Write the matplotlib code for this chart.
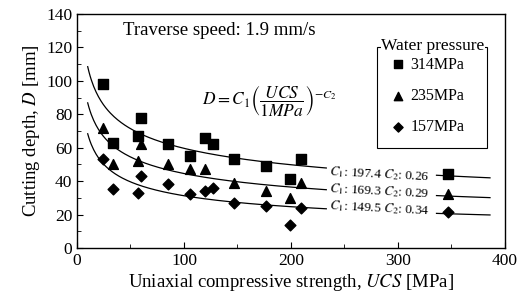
import matplotlib.pyplot as plt
from matplotlib.patches import Rectangle
import numpy as np

plt.rcParams['font.family'] = ['Liberation Serif', 'DejaVu Serif']
plt.rcParams['mathtext.fontset'] = 'stix'

ucs_314 = [24, 34, 57, 60, 85, 106, 120, 127, 147, 177, 199, 209]
d_314 = [98, 63, 67, 78, 62, 55, 66, 62, 53, 49, 41, 53]
ucs_235 = [24, 34, 57, 60, 85, 106, 120, 147, 177, 199, 209]
d_235 = [72, 50, 52, 62, 50, 47, 47, 39, 34, 30, 39]
ucs_157 = [24, 34, 57, 60, 85, 106, 120, 127, 147, 177, 199, 209]
d_157 = [53, 35, 33, 43, 38, 32, 34, 36, 27, 25, 14, 24]

# fitted power law D = C1 * UCS^-C2
c1 = [197.4, 169.3, 149.5]
c2 = [0.26, 0.29, 0.34]
labels = ['314MPa', '235MPa', '157MPa']
markers = ['s', '^', 'D']

fig = plt.figure(figsize=(5.31, 2.98), dpi=100)
ax = fig.add_axes([0.145, 0.168, 0.806, 0.785])

xs = [ucs_314, ucs_235, ucs_157]
ys = [d_314, d_235, d_157]
sizes = [46, 50, 30]
for x, y, m, lab, s in zip(xs, ys, markers, labels, sizes):
    ax.scatter(x, y, marker=m, s=s, color='black', label=lab, zorder=3)

x1 = np.linspace(10, 233, 200)
x2 = np.linspace(336, 386, 50)
label_y = [45.5, 35.5, 25.5]
for a, b, m, s, ly in zip(c1, c2, markers, sizes, label_y):
    ax.plot(x1, a * x1 ** -b, color='black', lw=0.9)
    ax.plot(x2, a * x2 ** -b, color='black', lw=0.9)
    ax.scatter([347], [a * 347 ** -b + 1], marker=m, s=s, color='black', zorder=3)
    ax.text(236, ly, r'$C_1$: %.1f $C_2$: %.2f' % (a, b), fontsize=9.5,
            rotation=-3, va='center', ha='left', rotation_mode='anchor')

ax.text(43, 130, 'Traverse speed: 1.9 mm/s', fontsize=13.5, va='center')
ax.text(117, 88, r'$D=C_1\left(\dfrac{UCS}{1MPa}\right)^{-C_2}$', fontsize=12.5, va='center')

# legend box drawn by hand so the title can sit on its top edge
ax.add_patch(Rectangle((0.701, 0.427), 0.257, 0.432, transform=ax.transAxes,
                       fill=False, edgecolor='black', lw=0.8, zorder=5))
leg = ax.legend(loc='upper left', bbox_to_anchor=(0.708, 0.859), frameon=False,
                fontsize=11.5, handletextpad=0.3, labelspacing=0.95,
                borderpad=0.6, handlelength=1.0, borderaxespad=0, markerscale=0.85)
ax.text(0.831, 0.862, 'Water pressure', transform=ax.transAxes, fontsize=12.5,
        ha='center', va='center', zorder=10,
        bbox=dict(facecolor='white', edgecolor='none', pad=0.3))

ax.set_xlim(0, 400)
ax.set_ylim(0, 140)
ax.set_xticks([0, 100, 200, 300, 400])
ax.set_xticks([50, 150, 250, 350], minor=True)
ax.set_yticks(np.arange(0, 141, 20))
ax.set_yticks(np.arange(10, 140, 20), minor=True)
ax.tick_params(direction='in', labelsize=12.5, length=4)
ax.tick_params(which='minor', direction='in', length=3)
for sp in ax.spines.values():
    sp.set_linewidth(1.0)

ax.set_xlabel(r'Uniaxial compressive strength, $\mathit{UCS}$ [MPa]', fontsize=13.5, labelpad=2)
ax.set_ylabel(r'Cutting depth, $\mathit{D}$ [mm]', fontsize=13.5, labelpad=3)

fig.savefig('out.png', dpi=100)
